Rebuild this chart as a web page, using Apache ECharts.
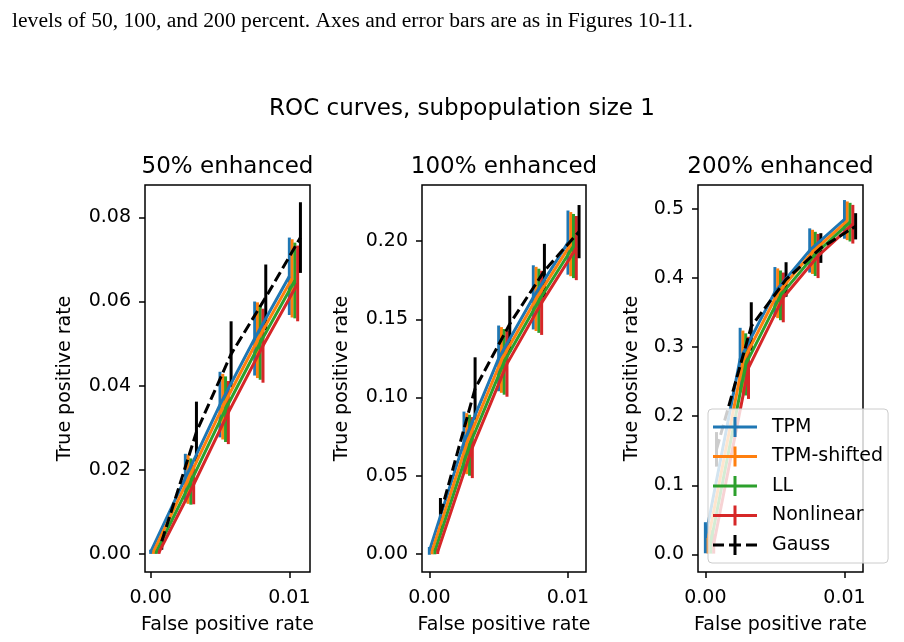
<!DOCTYPE html>
<html>
<head>
<meta charset="utf-8">
<script src="https://cdn.jsdelivr.net/npm/echarts@6/dist/echarts.min.js"></script>
<style>
  html, body { margin: 0; padding: 0; background: #fff; }
  #chart { width: 904px; height: 642px; }
</style>
</head>
<body>
<div id="chart"></div>
<script>
  // methods, in plotting order
  const methods = ['TPM', 'TPM-shifted', 'LL', 'Nonlinear', 'Gauss'];
  const colors = ['#1f77b4', '#ff7f0e', '#2ca02c', '#d62728', '#000000'];

  // false positive rate of each point (each method slightly shifted so the bars stay apart)
  const fpr = [
    [0.0000, 0.0025, 0.0050, 0.0075, 0.0100],
    [0.0002, 0.0027, 0.0052, 0.0077, 0.0102],
    [0.0004, 0.0029, 0.0054, 0.0079, 0.0104],
    [0.0006, 0.0031, 0.0056, 0.0081, 0.0106],
    [0.0008, 0.0033, 0.0058, 0.0083, 0.0108],
  ];

  // true positive rate and error bar half-length, one row per method
  const tpr50 = [
    [0.0005, 0.0180, 0.0355, 0.0512, 0.0660],
    [0.0005, 0.0177, 0.0350, 0.0508, 0.0655],
    [0.0004, 0.0172, 0.0344, 0.0502, 0.0650],
    [0.0004, 0.0165, 0.0336, 0.0495, 0.0643],
    [0.0030, 0.0290, 0.0475, 0.0610, 0.0752],
  ];
  const err50 = [
    [0.0005, 0.0058, 0.0078, 0.0088, 0.0092],
    [0.0005, 0.0058, 0.0078, 0.0090, 0.0093],
    [0.0004, 0.0055, 0.0078, 0.0088, 0.0090],
    [0.0004, 0.0047, 0.0075, 0.0088, 0.0090],
    [0.0020, 0.0072, 0.0078, 0.0078, 0.0084],
  ];
  const tpr100 = [
    [0.0020, 0.0715, 0.1250, 0.1640, 0.1990],
    [0.0020, 0.0705, 0.1240, 0.1630, 0.1980],
    [0.0018, 0.0695, 0.1228, 0.1618, 0.1968],
    [0.0015, 0.0680, 0.1215, 0.1605, 0.1955],
    [0.0256, 0.1057, 0.1470, 0.1810, 0.2060],
  ];
  const err100 = [
    [0.0025, 0.0195, 0.0210, 0.0205, 0.0205],
    [0.0022, 0.0195, 0.0210, 0.0205, 0.0205],
    [0.0020, 0.0195, 0.0210, 0.0205, 0.0205],
    [0.0015, 0.0195, 0.0210, 0.0205, 0.0205],
    [0.0102, 0.0200, 0.0180, 0.0172, 0.0170],
  ];
  const tpr200 = [
    [0.0240, 0.2830, 0.3800, 0.4400, 0.4850],
    [0.0210, 0.2790, 0.3780, 0.4380, 0.4830],
    [0.0180, 0.2750, 0.3750, 0.4350, 0.4810],
    [0.0150, 0.2700, 0.3720, 0.4320, 0.4780],
    [0.1520, 0.3300, 0.3980, 0.4435, 0.4750],
  ];
  const err200 = [
    [0.0225, 0.0450, 0.0360, 0.0320, 0.0280],
    [0.0200, 0.0450, 0.0360, 0.0320, 0.0280],
    [0.0170, 0.0450, 0.0360, 0.0320, 0.0280],
    [0.0140, 0.0450, 0.0360, 0.0320, 0.0280],
    [0.0250, 0.0350, 0.0250, 0.0215, 0.0190],
  ];

  // tick labels
  const xTicks = [0, 0.01];
  const yTicks50 = [0, 0.02, 0.04, 0.06, 0.08];
  const yTicks100 = [0, 0.05, 0.10, 0.15, 0.20];
  const yTicks200 = [0, 0.1, 0.2, 0.3, 0.4, 0.5];

  const font = '"DejaVu Sans", sans-serif';

  const panels = [
    {title: '50% enhanced', tpr: tpr50, err: err50, yTicks: yTicks50, digits: 2,
      left: 145, width: 165, xMin: -0.00041, xMax: 0.01149, yMin: -0.0043, yMax: 0.0877, nameGap: 70},
    {title: '100% enhanced', tpr: tpr100, err: err100, yTicks: yTicks100, digits: 2,
      left: 422, width: 164, xMin: -0.00053, xMax: 0.0113, yMin: -0.0115, yMax: 0.2358, nameGap: 70},
    {title: '200% enhanced', tpr: tpr200, err: err200, yTicks: yTicks200, digits: 1,
      left: 698, width: 165, xMin: -0.00053, xMax: 0.01133, yMin: -0.0256, yMax: 0.5348, nameGap: 56},
  ];

  const labelStyle = {fontFamily: font, fontSize: 19, color: '#000'};

  const grids = [], xAxes = [], yAxes = [], series = [], graphics = [];

  panels.forEach((p, i) => {
    grids.push({left: p.left, top: 185, width: p.width, height: 387,
      show: true, borderColor: '#000', borderWidth: 1.5, containLabel: false});
    xAxes.push({
      gridIndex: i, type: 'value', min: p.xMin, max: p.xMax, position: 'bottom',
      axisLine: {show: false, onZero: false},
      axisTick: {show: true, length: 6, lineStyle: {color: '#000', width: 1.5}, customValues: xTicks},
      axisLabel: Object.assign({customValues: xTicks, margin: 17, formatter: v => v.toFixed(2)}, labelStyle),
      splitLine: {show: false},
      name: 'False positive rate', nameLocation: 'middle', nameGap: 44, nameTextStyle: labelStyle,
    });
    yAxes.push({
      gridIndex: i, type: 'value', min: p.yMin, max: p.yMax, position: 'left',
      axisLine: {show: false, onZero: false},
      axisTick: {show: true, length: 6, lineStyle: {color: '#000', width: 1.5}, customValues: p.yTicks},
      axisLabel: Object.assign({customValues: p.yTicks, margin: 14, formatter: v => v.toFixed(p.digits)}, labelStyle),
      splitLine: {show: false},
      name: 'True positive rate', nameLocation: 'middle', nameGap: p.nameGap, nameTextStyle: labelStyle,
    });

    methods.forEach((m, k) => {
      const pts = fpr[k].map((x, j) => [x, p.tpr[k][j], p.err[k][j]]);
      series.push({
        type: 'custom', xAxisIndex: i, yAxisIndex: i, silent: true,
        itemStyle: {color: colors[k]},
        encode: {x: 0, y: 1},
        data: pts,
        renderItem: (params, api) => {
          const x = api.value(0), y = api.value(1), e = api.value(2);
          const a = api.coord([x, y + e]);
          const b = api.coord([x, y - e]);
          return {type: 'line', shape: {x1: a[0], y1: a[1], x2: b[0], y2: b[1]},
            style: {stroke: colors[k], lineWidth: 3}};
        },
      });
      series.push({
        name: m, type: 'line', xAxisIndex: i, yAxisIndex: i, silent: true,
        symbol: 'none', smooth: false,
        lineStyle: {color: colors[k], width: 3, join: 'round',
          type: m === 'Gauss' ? [10.5, 4.5] : 'solid'},
        itemStyle: {color: colors[k]},
        data: pts.map(d => [d[0], d[1]]),
      });
    });

    graphics.push({type: 'text', x: p.left + p.width / 2, y: 167, z: 10,
      style: {text: p.title, font: '23px ' + font, fill: '#000', align: 'center', verticalAlign: 'middle'}});
  });

  graphics.push({type: 'text', x: 462, y: 109, z: 10,
    style: {text: 'ROC curves, subpopulation size 1', font: '23px ' + font, fill: '#000',
      align: 'center', verticalAlign: 'middle'}});
  graphics.push({type: 'text', x: 12, y: 21, z: 10,
    style: {text: 'levels of 50, 100, and 200 percent. Axes and error bars are as in Figures 10-11.',
      font: '21.6px "Liberation Serif", serif', fill: '#000', align: 'left', verticalAlign: 'middle'}});

  const crossIcon = 'path://M0,8.5L44,8.5L44,11.5L0,11.5Z M20.5,0L23.5,0L23.5,20L20.5,20Z';
  const dashCrossIcon = 'path://M0,8.5L11,8.5L11,11.5L0,11.5Z M16,8.5L28,8.5L28,11.5L16,11.5Z ' +
    'M33,8.5L44,8.5L44,11.5L33,11.5Z M20.5,0L23.5,0L23.5,20L20.5,20Z';

  const chart = echarts.init(document.getElementById('chart'));
  chart.setOption({
    animation: false,
    backgroundColor: '#fff',
    grid: grids,
    xAxis: xAxes,
    yAxis: yAxes,
    series: series,
    graphic: graphics,
    legend: {
      orient: 'vertical', left: 708, top: 409,
      padding: [8, 5, 8, 5], itemGap: 9.5, itemWidth: 44, itemHeight: 20,
      backgroundColor: 'rgba(255,255,255,0.8)', borderColor: '#cccccc', borderWidth: 1, borderRadius: 4,
      selectedMode: false,
      itemStyle: {borderWidth: 0},
      textStyle: {fontFamily: font, fontSize: 19, color: '#000', padding: [0, 0, 0, 10]},
      data: methods.map((m, k) => ({name: m, icon: m === 'Gauss' ? dashCrossIcon : crossIcon,
        itemStyle: {color: colors[k], borderWidth: 0}})),
    },
  });
</script>
</body>
</html>
